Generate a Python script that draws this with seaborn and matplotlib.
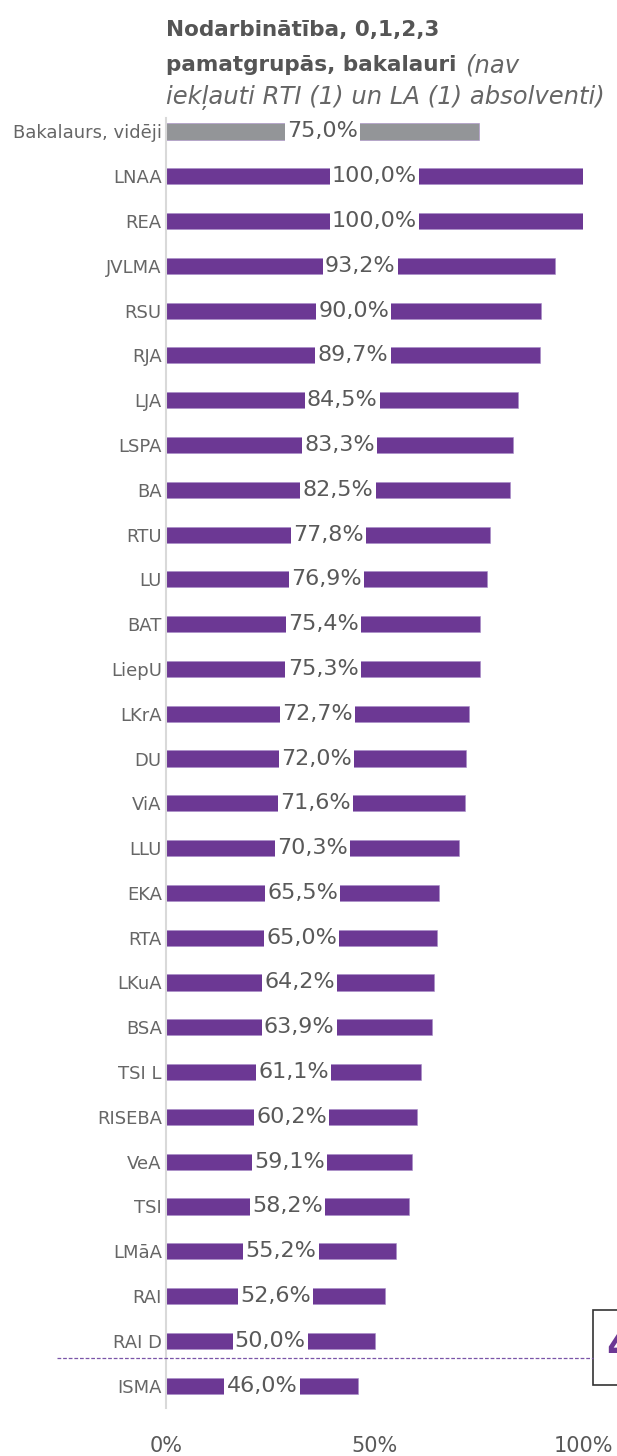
import matplotlib
matplotlib.use("Agg")
import matplotlib.pyplot as plt
import seaborn as sns
import pandas as pd
from matplotlib.patches import Rectangle
from matplotlib.lines import Line2D

# data
schools = ["Bakalaurs, vidēji", "LNAA", "REA", "JVLMA", "RSU", "RJA", "LJA", "LSPA", "BA",
           "RTU", "LU", "BAT", "LiepU", "LKrA", "DU", "ViA", "LLU", "EKA", "RTA", "LKuA",
           "BSA", "TSI L", "RISEBA", "VeA", "TSI", "LMāA", "RAI", "RAI D", "ISMA"]
employment = [75.0, 100.0, 100.0, 93.2, 90.0, 89.7, 84.5, 83.3, 82.5,
              77.8, 76.9, 75.4, 75.3, 72.7, 72.0, 71.6, 70.3, 65.5, 65.0, 64.2,
              63.9, 61.1, 60.2, 59.1, 58.2, 55.2, 52.6, 50.0, 46.0]
x_ticks = [0, 50, 100]
x_tick_labels = ["0%", "50%", "100%"]

purple = "#6c3894"
grey = "#939598"
text_col = "#595959"

df = pd.DataFrame({"school": schools, "value": employment})
palette = [grey] + [purple] * (len(schools) - 1)

sns.set_style("white")
plt.rcParams['font.family'] = ['DejaVu Sans']

W, H = 617, 1456
fig = plt.figure(figsize=(W / 100, H / 100), dpi=100)
fig.patch.set_facecolor("white")

# axes: 0% at x=166, 100% at x=583; rows from y=118 to y=1408
left, right = 166 / W, 583 / W
top, bottom = 118 / H, 1408 / H
ax = fig.add_axes([left, 1 - bottom, right - left, bottom - top])

sns.barplot(data=df, y="school", x="value", hue="school", palette=palette,
            legend=False, orient="h", width=0.36, ax=ax, saturation=1,
            edgecolor="#a88cc8", linewidth=0.4)

ax.set_xlim(0, 100)
n = len(schools)
ax.set_ylim(n - 0.5, -0.3)
ax.set_xlabel("")
ax.set_ylabel("")
ax.set_xticks(x_ticks)
ax.set_xticklabels(x_tick_labels, fontsize=15, color=text_col)
ax.tick_params(axis="x", length=0, pad=20)
ax.tick_params(axis="y", length=0, pad=3, labelsize=13, labelcolor="#666666")
for s in ["top", "right", "bottom"]:
    ax.spines[s].set_visible(False)
ax.spines["left"].set_color("#d9d9d9")
ax.spines["left"].set_linewidth(1.5)
ax.set_facecolor("none")

# value labels centred on the bars
for i, v in enumerate(employment):
    ax.text(v / 2, i, f"{v:.1f}%".replace(".", ","), ha="center", va="center",
            fontsize=16, color=text_col,
            bbox=dict(boxstyle="square,pad=0.1", fc="white", ec="none"))

# title
fig.text(166 / W, 1 - 30 / H, "Nodarbinātība, 0,1,2,3", fontsize=15.5, fontweight="bold",
         color="#555555", va="center", ha="left")
t2 = fig.text(166 / W, 1 - 65 / H, "pamatgrupās, bakalauri", fontsize=15.5, fontweight="bold",
              color="#555555", va="center", ha="left")
fig.canvas.draw()
bb = t2.get_window_extent()
fig.text(bb.x1 / W + 9 / W, 1 - 65 / H, "(nav", fontsize=17.5, fontstyle="italic",
         color="#666666", va="center", ha="left")
fig.text(166 / W, 1 - 98 / H, "iekļauti RTI (1) un LA (1) absolventi)", fontsize=17.5,
         fontstyle="italic", color="#666666", va="center", ha="left")

# dashed line and cut-off box at bottom right
fig.add_artist(Line2D([57 / W, 593 / W], [1 - 1358 / H, 1 - 1358 / H], color="#7a55a8",
                      linestyle=(0, (3, 1.5)), linewidth=0.9))
fig.add_artist(Rectangle((593 / W, 1 - 1385 / H), 40 / W, 75 / H, fill=True,
                         facecolor="white", edgecolor="#333333", linewidth=1.2))
fig.text(606 / W, 1 - 1347 / H, "4", fontsize=30, fontweight="bold", color=purple,
         va="center", ha="left")

fig.savefig("out.png", dpi=100)
